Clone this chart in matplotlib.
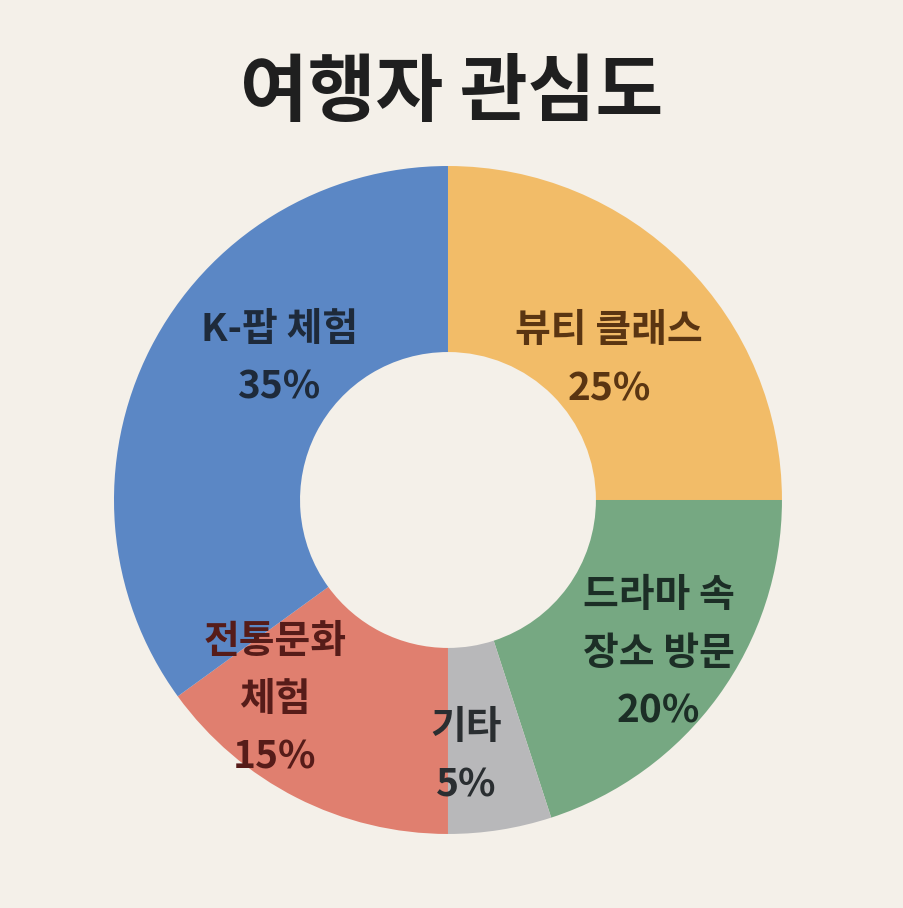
import matplotlib
matplotlib.use("Agg")
import matplotlib.pyplot as plt
import numpy as np

plt.rcParams['font.family'] = ['Noto Sans CJK KR', 'DejaVu Sans']

title = "여행자 관심도"
categories = ["뷰티 클래스", "드라마 속\n장소 방문", "기타", "전통문화\n체험", "K-팝 체험"]
values = [25, 20, 5, 15, 35]
colors = ["#F2BC68", "#76A882", "#B8B8BA", "#E07F6F", "#5B87C5"]
text_colors = ["#5A3512", "#1C2E26", "#2A2E31", "#561C19", "#1E2A3A"]

bg = "#F4F0E9"
fig = plt.figure(figsize=(9.04, 9.08), dpi=100, facecolor=bg)

ax = fig.add_axes([0.1261, 0.0815, 0.7389, 0.7357])
ax.set_facecolor(bg)
wedges, _ = ax.pie(values, colors=colors, startangle=90, counterclock=False,
                   radius=1.0, wedgeprops=dict(width=0.557, linewidth=0))
ax.set_xlim(-1, 1)
ax.set_ylim(-1, 1)
ax.set_aspect('equal')
ax.axis('off')

# label placement (layout): radial distance and angular nudge per slice
label_r = [0.64, 0.78, 0.77, 0.79, 0.66]
angle_nudge = [-4, 0, -5, -14, -13]
for w, cat, v, tc, r, dn in zip(wedges, categories, values, text_colors, label_r, angle_nudge):
    mid = np.deg2rad((w.theta1 + w.theta2) / 2 + dn)
    x, y = r * np.cos(mid), r * np.sin(mid)
    ax.text(x, y, f"{cat}\n{v}%", ha='center', va='center', fontsize=28,
            fontweight='bold', color=tc, linespacing=1.6)

fig.text(0.5, 0.897, title, ha='center', va='center', fontsize=53,
         fontweight='bold', color="#1F1F1F")

fig.savefig("out.png", dpi=100, facecolor=bg)
